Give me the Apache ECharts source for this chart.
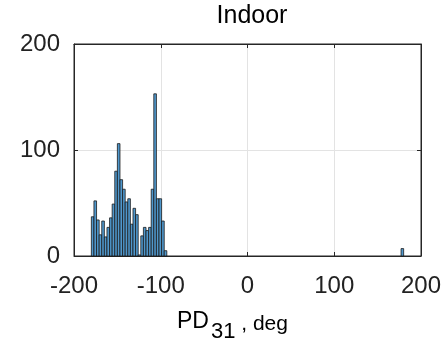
<!DOCTYPE html>
<html>
<head>
<meta charset="utf-8">
<script src="https://cdn.jsdelivr.net/npm/echarts@6/dist/echarts.min.js"></script>
<style>html,body{margin:0;padding:0;background:#fff}#c{width:448px;height:345px}</style>
</head>
<body>
<div id="c"></div>
<script>
// Histogram bins (degrees) and counts
var binLeft  = [-180,-177,-174,-171,-168,-165,-162,-159,-156,-153,-150,-147,-144,-141,-138,-135,-132,-129,-126,-123,-120,-117,-114,-111,-108,-105,-102,-99,-96,177];
var binRight = [-177,-174,-171,-168,-165,-162,-159,-156,-153,-150,-147,-144,-141,-138,-135,-132,-129,-126,-123,-120,-117,-114,-111,-108,-105,-102,-99,-96,-93,180];
var counts   = [37,52,34,20,33,18,27,36,49,80,106,72,63,51,54,30,45,39,1,19,27,24,27,63,153,54,54,33,5,7];
var xTicks = [-200,-100,0,100,200];
var yTicks = [0,100,200];
var titleText = 'Indoor';

var data = binLeft.map(function(l,i){return [l, binRight[i], counts[i]];});
var chart = echarts.init(document.getElementById('c'));
var font = '"Liberation Sans", Arial, Helvetica, sans-serif';
function axLine(){return {show:true,onZero:false,lineStyle:{color:'#262626'}};}
function axTick(){return {show:true,inside:true,length:4,lineStyle:{color:'#262626'}};}
chart.setOption({
  animation:false,
  title:{text:titleText,left:247,top:-1,textAlign:'center',textStyle:{fontFamily:font,fontSize:25,fontWeight:'normal',color:'#000'}},
  grid:{left:74,right:27,top:44,bottom:89,outerBoundsMode:'none',containLabel:false,show:true,borderColor:'#262626',borderWidth:1,backgroundColor:'#fff'},
  xAxis:[{
    type:'value',min:xTicks[0],max:xTicks[xTicks.length-1],interval:100,
    axisLine:axLine(),axisTick:axTick(),
    axisLabel:{fontFamily:font,fontSize:24,color:'#222',margin:18},
    splitLine:{show:true,lineStyle:{color:'#e3e3e3',width:1}},
    name:'{a|PD}{b|31}{c| , deg}',nameLocation:'middle',nameGap:45,
    nameTextStyle:{padding:[0,30,0,0],rich:{
      a:{fontFamily:font,fontSize:23,color:'#000'},
      b:{fontFamily:font,fontSize:22,color:'#000',padding:[20,0,0,2]},
      c:{fontFamily:font,fontSize:21,color:'#000',padding:[5,0,0,0]}
    }}
  },{
    type:'value',position:'top',min:xTicks[0],max:xTicks[xTicks.length-1],interval:100,
    axisLine:axLine(),axisTick:axTick(),
    axisLabel:{show:false},splitLine:{show:false}
  }],
  yAxis:[{
    type:'value',min:yTicks[0],max:yTicks[yTicks.length-1],interval:100,
    axisLine:axLine(),axisTick:axTick(),
    axisLabel:{fontFamily:font,fontSize:24,color:'#222',margin:14},
    splitLine:{show:true,lineStyle:{color:'#e3e3e3',width:1}}
  },{
    type:'value',position:'right',min:yTicks[0],max:yTicks[yTicks.length-1],interval:100,
    axisLine:axLine(),axisTick:axTick(),
    axisLabel:{show:false},splitLine:{show:false}
  }],
  series:[{
    type:'custom',
    xAxisIndex:0,yAxisIndex:0,
    data:data,
    encode:{x:[0,1],y:2},
    renderItem:function(params,api){
      var p0 = api.coord([api.value(0), api.value(2)]);
      var p1 = api.coord([api.value(1), 0]);
      return {type:'rect',shape:{x:p0[0],y:p0[1],width:p1[0]-p0[0],height:p1[1]-p0[1]},
        style:{fill:'#4f97cc',stroke:'#1a1a1a',lineWidth:0.8}};
    }
  }]
});
</script>
</body>
</html>
